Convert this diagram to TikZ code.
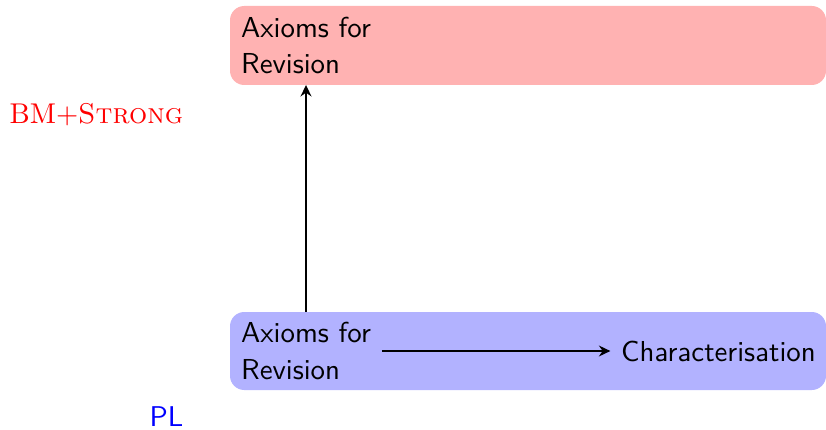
\documentclass[tikz,border=0pt]{standalone}
\usetikzlibrary{arrows.meta,backgrounds}
\begin{document}
\begin{tikzpicture}[x=0.35pt,y=-0.35pt,
  ax/.style={font=\sffamily\fontsize{10.1}{12.8}\selectfont, align=left, inner sep=3.6pt},
  lbl/.style={font=\fontsize{10}{12}\selectfont, inner sep=0pt},
  band/.style={rounded corners=5pt},
  conn/.style={line width=0.75pt, -{Stealth[length=4pt,width=3.8pt]}}]
\useasboundingbox (0,0) rectangle (826,429);

% statements
\node[ax] (revB) at (306,45.5) {Axioms for\\Revision};
\node[ax] (revP) at (306,351) {Axioms for\\Revision};
\node[ax] (char) at (718.5,351) {Characterisation};

% logic labels
\node[lbl, text=red, anchor=base west] (bm) at (9,124) {BM+\textsc{Strong}};
\node[lbl, text=blue, anchor=base west, font=\sffamily\fontsize{10}{12}\selectfont] (pl) at (149,426.5) {PL};

% coloured bands behind each level
\begin{scope}[on background layer]
  \fill[band, red!30] (230,6) rectangle (826,85);
  \fill[band, blue!30] (230,312) rectangle (826,390);
\end{scope}

% connectors
\draw[conn] (revP) -- (revB);
\draw[conn] (revP) -- (char);
\end{tikzpicture}
\end{document}
